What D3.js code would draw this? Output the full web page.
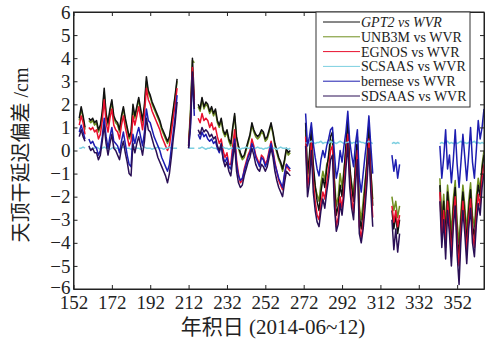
<!DOCTYPE html>
<html>
<head>
<meta charset="utf-8">
<script src="https://cdn.jsdelivr.net/npm/d3@7"></script>
<style>
  html, body { margin: 0; padding: 0; background: #fff; }
  svg { display: block; }
  text { font-family: "Liberation Serif", "Times New Roman", "Noto Sans CJK SC", serif; fill: #222; }
</style>
</head>
<body>
<script>
// Day-of-year ranges that have data (gaps between them are missing data)
const segments = [[155, 158], [160, 206], [212, 215], [217, 265], [273, 308], [318, 322], [343, 366]];

const xTicks = [152, 172, 192, 212, 232, 252, 272, 292, 312, 332, 352];
const yTicks = [-6, -5, -4, -3, -2, -1, 0, 1, 2, 3, 4, 5, 6];

const seriesNames = ["GPT2 vs WVR", "UNB3M vs WVR", "EGNOS vs WVR", "SCSAAS vs WVR", "bernese vs WVR", "SDSAAS vs WVR"];

// Values (cm), one per day, segments concatenated in order
const gpt2 = [
    1.4, 1.9, 1.5, 1.0,
    1.4, 1.3, 1.4, 1.2, 1.3, 0.9, 1.1, 1.7, 2.7, 1.6, 1.2, 1.8, 2.2, 1.5, 1.3, 1.2, 0.9, 1.5, 1.9, 1.4, 1.0, 0.6, 0.8, 2.0,
    1.5, 1.9, 2.3, 1.8, 1.3, 2.0, 3.2, 2.6, 2.4, 2.1, 1.9, 1.7, 1.5, 1.3, 1.0, 0.8, 0.6, 0.4, 0.6, 1.2, 1.8, 2.4, 3.1,
    0.2, 1.5, 4.0, 2.2,
    2.0, 1.8, 2.3, 1.9, 2.1, 2.0, 1.7, 1.9, 1.6, 1.8, 1.3, 1.1, 1.4, 0.9, 0.7, 0.9, 0.5, 0.3, 1.0, 1.6, 0.6, 0.2, -0.1, -0.3, -0.2,
    0.1, 0.4, 0.7, 1.2, 0.9, 0.7, 0.6, 0.7, 0.9, 0.8, 0.5, 0.6, 0.9, 1.2, 0.8, 0.3, 0.0, -0.3, -0.5, -0.8, -0.4, 0.1, -0.1, 0.0,
    1.2, -1.0, -0.2, 1.0, -0.6, -1.5, -2.2, -2.6, -1.8, -1.2, -1.6, -0.8, -0.2, 0.6, 0.8, -1.4, -2.8, -2.4,
    -1.5, -2.0, -1.0, 0.2, 1.4, -0.6, -1.6, -2.2, -0.5, 0.6, -2.8, -3.4, -2.6, -1.6, -0.4, 1.2, -0.8, -2.4,
    -2.6, -3.4, -2.8, -3.6, -3.0,
    -1.5, -3.5, -2.2, -3.8, -1.8, -2.8, -4.2, -2.5, -1.6, -3.6, -4.6, -3.0, -1.8, -2.8, -4.0, -2.6, -1.7, -3.2, -3.8, -2.4, -1.5, -2.0, -0.8, -0.2
];
const unb3m = [
    1.3, 1.8, 1.4, 0.9,
    1.3, 1.2, 1.3, 1.1, 1.2, 0.8, 1.0, 1.6, 2.5, 1.5, 1.1, 1.7, 2.1, 1.4, 1.2, 1.1, 0.8, 1.4, 1.8, 1.3, 0.9, 0.5, 0.7, 1.8,
    1.4, 1.8, 2.2, 1.7, 1.2, 1.9, 3.0, 2.5, 2.3, 2.0, 1.8, 1.6, 1.4, 1.2, 0.9, 0.7, 0.5, 0.3, 0.5, 1.1, 1.7, 2.3, 3.0,
    0.3, 1.8, 3.9, 3.8,
    1.9, 1.7, 2.2, 1.8, 2.0, 1.9, 1.6, 1.8, 1.5, 1.7, 1.2, 1.0, 1.3, 0.8, 0.6, 0.8, 0.4, 0.2, 0.9, 1.5, 0.5, 0.1, -0.2, -0.4, -0.3,
    0.0, 0.3, 0.6, 1.1, 0.8, 0.6, 0.5, 0.6, 0.8, 0.7, 0.4, 0.5, 0.8, 1.1, 0.7, 0.2, -0.1, -0.4, -0.6, -0.9, -0.5, 0.0, -0.2, -0.1,
    0.9, -1.2, -0.5, 0.7, -0.9, -1.6, -1.9, -2.2, -1.4, -0.9, -1.3, -0.6, -0.4, 0.3, 0.5, -1.2, -2.4, -2.0,
    -1.0, -1.6, -0.8, 0.0, 1.0, -0.9, -1.4, -1.9, -0.7, 0.3, -2.4, -3.0, -2.2, -1.3, -0.6, 0.9, -1.0, -2.1,
    -2.0, -2.6, -2.2, -2.9, -2.4,
    -1.2, -3.0, -1.9, -3.3, -1.5, -2.4, -3.6, -2.1, -1.3, -3.1, -4.0, -2.6, -1.5, -2.4, -3.5, -2.2, -1.4, -2.8, -3.3, -2.0, -1.2, -1.7, -0.6, 0.0
];
const egnos = [
    1.1, 1.5, 1.2, 0.7,
    1.0, 0.9, 1.0, 0.8, 0.9, 0.5, 0.7, 1.3, 2.2, 1.2, 0.8, 1.4, 1.8, 1.1, 0.9, 0.8, 0.5, 1.1, 1.5, 1.0, 0.6, 0.2, 0.4, 1.5,
    1.1, 1.5, 1.9, 1.4, 0.9, 1.6, 2.7, 2.2, 2.0, 1.7, 1.5, 1.3, 1.1, 0.9, 0.6, 0.4, 0.2, 0.0, 0.2, 0.8, 1.4, 2.0, 2.7,
    0.2, 1.4, 3.6, 2.0,
    1.4, 1.2, 1.6, 1.3, 1.4, 1.3, 1.0, 1.2, 0.9, 1.0, 0.6, 0.3, 0.5, 0.0, -0.3, -0.1, -0.6, -0.6, 0.2, 0.9, -0.4, -1.0, -1.4, -1.3, -0.8,
    -0.5, -0.2, 0.0, 0.5, 0.2, -0.2, -0.4, -0.6, -0.2, -0.3, -0.6, -0.4, 0.0, 0.4, 0.0, -0.5, -0.9, -1.3, -1.5, -1.7, -1.1, -0.6, -0.8, -0.9,
    0.6, -1.6, -1.0, 0.4, -1.3, -2.2, -2.8, -3.0, -2.3, -1.8, -2.1, -1.4, -0.8, 0.0, 0.2, -2.0, -3.3, -2.9,
    -2.0, -2.5, -1.6, -0.4, 0.7, -1.2, -2.1, -2.7, -1.1, 0.0, -3.3, -3.8, -3.1, -2.1, -1.0, 0.5, -1.4, -2.9,
    -2.4, -3.1, -2.6, -3.3, -2.8,
    -1.8, -3.8, -2.6, -4.2, -2.2, -3.2, -4.6, -2.9, -2.0, -4.0, -5.0, -3.4, -2.2, -3.2, -4.4, -3.0, -2.1, -3.6, -4.2, -2.8, -1.9, -2.4, -1.2, -0.6
];
const scsaas = [
    0.1, 0.1, 0.15, 0.1,
    0.1, 0.05, 0.1, 0.1, 0.15, 0.1, 0.05, 0.1, 0.15, 0.1, 0.1, 0.05, 0.1, 0.15, 0.1, 0.1, 0.05, 0.1, 0.15, 0.1, 0.1, 0.1, 0.05, 0.1,
    0.15, 0.1, 0.1, 0.05, 0.1, 0.15, 0.1, 0.1, 0.1, 0.05, 0.1, 0.1, 0.15, 0.1, 0.1, 0.05, 0.1, 0.1, 0.15, 0.1, 0.1, 0.1, 0.1,
    0.1, 0.1, 0.1, 0.1,
    0.1, 0.1, 0.15, 0.1, 0.05, 0.1, 0.1, 0.15, 0.1, 0.1, 0.05, 0.1, 0.1, 0.15, 0.1, 0.1, 0.05, 0.1, 0.1, 0.15, 0.1, 0.1, 0.05, 0.1, 0.1,
    0.15, 0.1, 0.1, 0.05, 0.1, 0.1, 0.15, 0.1, 0.1, 0.05, 0.1, 0.1, 0.15, 0.1, 0.1, 0.1, 0.05, 0.1, 0.15, 0.1, 0.1, 0.1, 0.05, 0.1,
    0.35, 0.3, 0.35, 0.4, 0.35, 0.3, 0.35, 0.35, 0.4, 0.3, 0.35, 0.35, 0.3, 0.4, 0.35, 0.35, 0.3, 0.35,
    0.4, 0.35, 0.3, 0.35, 0.35, 0.4, 0.3, 0.35, 0.35, 0.3, 0.4, 0.35, 0.35, 0.3, 0.35, 0.4, 0.35, 0.3,
    0.3, 0.35, 0.3, 0.35, 0.3,
    0.3, 0.35, 0.3, 0.35, 0.4, 0.3, 0.35, 0.3, 0.35, 0.3, 0.35, 0.4, 0.3, 0.35, 0.3, 0.35, 0.3, 0.35, 0.4, 0.3, 0.35, 0.3, 0.35, 0.3
];
const bernese = [
    0.8, 1.1, 0.8, 0.5,
    0.5, 0.3, 0.4, 0.2, 0.1, -0.2, 0.0, 0.6, 1.4, 0.6, 0.1, 0.6, 1.0, 0.4, 0.3, 0.2, -0.1, 0.4, 0.8, 0.3, -0.2, -0.6, -0.7, 0.7,
    0.3, 0.7, 1.0, 0.6, 0.2, 0.8, 1.8, 1.3, 1.2, 0.9, 0.6, 0.4, 0.2, 0.0, -0.3, -0.5, -0.7, -0.9, -0.6, 0.1, 0.8, 1.5, 2.4,
    0.1, 1.0, 3.2, 1.5,
    0.7, 0.5, 0.8, 0.6, 0.7, 0.5, 0.4, 0.5, 0.3, 0.4, 0.1, -0.1, 0.2, -0.3, -0.5, -0.3, -0.7, -0.8, -0.1, 0.5, -0.6, -1.1, -1.3, -1.2, -0.9,
    -0.6, -0.3, -0.1, 0.3, 0.1, -0.3, -0.5, -0.7, -0.3, -0.4, -0.7, -0.5, -0.1, 0.3, -0.1, -0.6, -0.9, -1.2, -1.4, -1.6, -1.0, -0.6, -0.7, -0.8,
    1.6, 0.2, 0.6, 1.2, 0.3, -0.3, -0.8, -1.1, -0.4, 0.0, -0.3, 0.2, 0.5, 0.9, 1.0, -0.1, -1.2, -0.8,
    0.0, -0.5, 0.2, 0.8, 1.7, 0.4, -0.2, -0.7, 0.3, 0.9, -1.2, -1.8, -1.0, -0.2, 0.5, 1.5, 0.2, -1.0,
    -0.2, -0.9, -0.4, -1.2, -0.6,
    0.2, -1.2, -0.3, 0.9, -0.8, -0.2, -1.4, -0.4, 0.9, -0.6, -1.6, -0.5, 0.7, -0.3, -1.3, -0.2, 1.0, -0.5, -1.2, 0.0, 1.3, 0.5, 1.0, 1.8
];
const sdsaas = [
    0.6, 0.9, 0.6, 0.4,
    0.2, 0.0, 0.1, -0.1, -0.1, -0.4, -0.2, 0.4, 1.1, 0.3, -0.2, 0.3, 0.7, 0.1, 0.0, -0.2, -0.4, 0.1, 0.4, -0.1, -0.5, -1.0, -1.1, 0.3,
    -0.1, 0.3, 0.6, 0.2, -0.2, 0.4, 1.4, 0.9, 0.8, 0.5, 0.2, 0.0, -0.3, -0.5, -0.7, -0.9, -1.1, -1.4, -1.0, -0.3, 0.5, 1.2, 2.1,
    0.1, 1.2, 3.4, 1.8,
    0.9, 0.7, 1.0, 0.8, 0.9, 0.8, 0.6, 0.7, 0.5, 0.6, 0.2, 0.0, 0.3, -0.4, -0.7, -0.5, -0.9, -1.1, -0.4, 0.3, -0.9, -1.4, -1.6, -1.5, -1.1,
    -0.8, -0.5, -0.3, 0.1, -0.2, -0.6, -0.8, -0.9, -0.6, -0.7, -0.9, -0.7, -0.3, 0.1, -0.3, -0.9, -1.3, -1.6, -1.8, -2.0, -1.4, -0.9, -1.0, -1.1,
    0.2, -2.0, -1.4, 0.0, -1.8, -2.6, -3.1, -3.3, -2.6, -2.1, -2.5, -1.8, -1.2, -0.4, -0.2, -2.4, -3.5, -3.2,
    -2.3, -2.8, -2.0, -0.8, 0.3, -1.6, -2.5, -3.0, -1.5, -0.4, -3.6, -4.0, -3.4, -2.5, -1.4, 0.1, -1.8, -3.3,
    -3.0, -4.3, -3.4, -4.4, -3.6,
    -2.2, -4.2, -3.0, -4.7, -2.6, -3.6, -5.0, -3.3, -2.4, -4.5, -5.8, -3.8, -2.6, -3.6, -4.9, -3.4, -2.5, -4.0, -4.6, -3.2, -2.3, -2.8, -1.6, -1.0
];

const seriesValues = [gpt2, unb3m, egnos, scsaas, bernese, sdsaas];
const seriesColors = ["#111111", "#6f8f1f", "#e8102e", "#7ccfe0", "#1d1db0", "#2a0f55"];
// olive first so the black trace stays on top of it
const drawOrder = [1, 0, 2, 3, 4, 5];

const WIDTH = 488;
const HEIGHT = 347;
const LEFT = 73.5;
const RIGHT = 484;
const TOP = 12;
const BOTTOM = 289;
const TICK = 4;

// x grid built from the segment ranges
const days = segments.flatMap(([a, b]) => d3.range(a, b + 1));
const segOf = segments.flatMap(([a, b], i) => d3.range(a, b + 1).map(() => i));

const xScale = d3.scaleLinear().domain([152, 366]).range([LEFT, RIGHT]);
const yScale = d3.scaleLinear().domain([-6, 6]).range([BOTTOM, TOP]);

const svg = d3.select("body").append("svg")
    .attr("width", WIDTH)
    .attr("height", HEIGHT);

svg.append("defs").append("clipPath")
    .attr("id", "plot-clip")
    .append("rect")
    .attr("x", LEFT).attr("y", TOP)
    .attr("width", RIGHT - LEFT).attr("height", BOTTOM - TOP);

// Data lines
const line = d3.line()
    .x(d => xScale(d.day))
    .y(d => yScale(d.v));

const plot = svg.append("g").attr("clip-path", "url(#plot-clip)");

drawOrder.forEach(s => {
    const values = seriesValues[s];
    const points = values.map((v, i) => ({ day: days[i], v: v, seg: segOf[i] }));
    const groups = d3.groups(points, d => d.seg).map(g => g[1]);
    plot.append("g")
        .selectAll("path")
        .data(groups)
        .join("path")
        .attr("d", line)
        .attr("fill", "none")
        .attr("stroke", seriesColors[s])
        .attr("stroke-width", 1.5)
        .attr("stroke-linejoin", "round");
});

// Axes (ticks point inward, box on)
const fontSize = "19px";

const xAxis = svg.append("g")
    .attr("transform", `translate(0, ${BOTTOM})`)
    .call(d3.axisBottom(xScale).tickValues(xTicks).tickSizeInner(-TICK).tickSizeOuter(0).tickPadding(7));
xAxis.selectAll("text").style("font-size", fontSize);

svg.append("g")
    .attr("transform", `translate(0, ${TOP})`)
    .call(d3.axisTop(xScale).tickValues(xTicks).tickSizeInner(-TICK).tickSizeOuter(0).tickFormat(""));

const yAxis = svg.append("g")
    .attr("transform", `translate(${LEFT}, 0)`)
    .call(d3.axisLeft(yScale).tickValues(yTicks).tickSizeInner(-TICK).tickSizeOuter(0).tickPadding(3));
yAxis.selectAll("text").style("font-size", fontSize);
// lift the bottom label slightly, like the reference where it sits just above the first x label
yAxis.selectAll(".tick text").filter(d => d === -6).attr("dy", "0.22em");

svg.append("g")
    .attr("transform", `translate(${RIGHT}, 0)`)
    .call(d3.axisRight(yScale).tickValues(yTicks).tickSizeInner(-TICK).tickSizeOuter(0).tickFormat(""));

svg.selectAll(".domain").attr("stroke", "#222");
svg.selectAll(".tick line").attr("stroke", "#222");

svg.append("rect")
    .attr("x", LEFT).attr("y", TOP)
    .attr("width", RIGHT - LEFT).attr("height", BOTTOM - TOP)
    .attr("fill", "none")
    .attr("stroke", "#222");

// Axis titles
svg.append("text")
    .attr("x", 273)
    .attr("y", 334)
    .attr("text-anchor", "middle")
    .style("font-size", "21px")
    .text("年积日 (2014-06~12)");

svg.append("text")
    .attr("transform", "translate(28, 155) rotate(-90)")
    .attr("text-anchor", "middle")
    .style("font-size", "20px")
    .text("天顶干延迟偏差 /cm");

// Legend
const LEGEND_X = 316;
const LEGEND_Y = 12;
const LEGEND_W = 154;
const LEGEND_H = 95;
const LEGEND_ROW = 14.8;

svg.append("rect")
    .attr("x", LEGEND_X).attr("y", LEGEND_Y)
    .attr("width", LEGEND_W).attr("height", LEGEND_H)
    .attr("fill", "#fff")
    .attr("stroke", "#333");

const legend = svg.append("g");
legend.selectAll("line")
    .data(seriesNames)
    .join("line")
    .attr("x1", LEGEND_X + 7)
    .attr("x2", LEGEND_X + 44)
    .attr("y1", (_n, i) => LEGEND_Y + 10 + i * LEGEND_ROW)
    .attr("y2", (_n, i) => LEGEND_Y + 10 + i * LEGEND_ROW)
    .attr("stroke", (_n, i) => seriesColors[i])
    .attr("stroke-width", 1);

legend.selectAll("text")
    .data(seriesNames)
    .join("text")
    .attr("x", LEGEND_X + 45)
    .attr("y", (_n, i) => LEGEND_Y + 15 + i * LEGEND_ROW)
    .style("font-size", "14px")
    .style("font-style", (_n, i) => i === 0 ? "italic" : "normal")
    .text(n => n);
</script>
</body>
</html>
